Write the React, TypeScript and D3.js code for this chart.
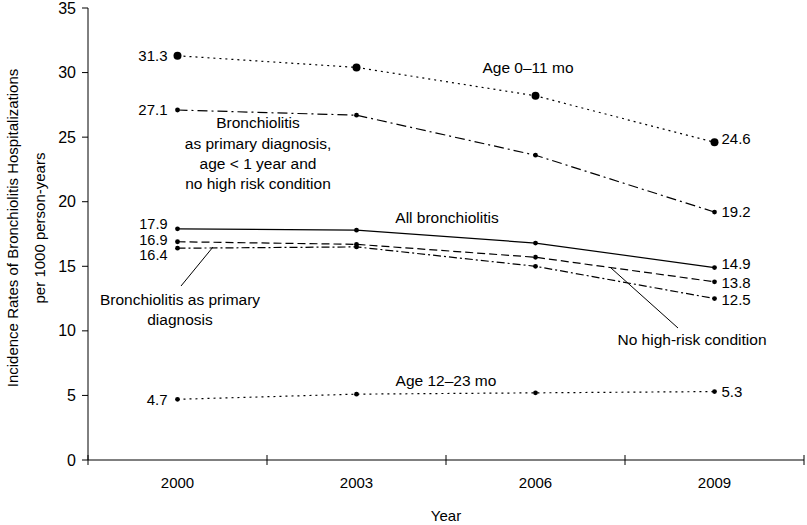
import React from "react";
import * as d3 from "d3";

const years = ["2000", "2003", "2006", "2009"];
const yTicks = [0, 5, 10, 15, 20, 25, 30, 35];

const age0to11 = [31.3, 30.4, 28.2, 24.6];
const primaryAgeNoRisk = [27.1, 26.7, 23.6, 19.2];
const allBronch = [17.9, 17.8, 16.8, 14.9];
const primaryDx = [16.9, 16.7, 15.7, 13.8];
const noHighRisk = [16.4, 16.5, 15.0, 12.5];
const age12to23 = [4.7, 5.1, 5.2, 5.3];

const W = 807;
const H = 525;
const plot = { left: 88, right: 804, top: 8, bottom: 460 };

const font = "'Liberation Sans', Arial, sans-serif";

export default function App() {
  const x = d3.scaleBand<string>().domain(years).range([plot.left, plot.right]);
  const y = d3.scaleLinear().domain([0, 35]).range([plot.bottom, plot.top]);
  const cx = (yr: string) => (x(yr) as number) + x.bandwidth() / 2;
  const line = d3
    .line<number>()
    .x((_, i) => cx(years[i]))
    .y((d) => y(d));

  const series = [
    { data: age0to11, dash: "2,4", r: 4 },
    { data: primaryAgeNoRisk, dash: "10,4,2,4", r: 2.4 },
    { data: allBronch, dash: "", r: 2.4 },
    { data: primaryDx, dash: "8,4", r: 2.4 },
    { data: noHighRisk, dash: "8,3,2,3", r: 2.4 },
    { data: age12to23, dash: "2,4", r: 2.4 },
  ];

  const boundaries = [...years.map((yr) => x(yr) as number), plot.right];
  const first = years[0];
  const last = years[years.length - 1];
  const lx = cx(first) - 10;
  const rx = cx(last) + 7;

  const leftLabels = [
    { v: age0to11[0], dy: 0, fs: 15 },
    { v: primaryAgeNoRisk[0], dy: 0, fs: 15 },
    { v: allBronch[0], dy: -5, fs: 14.5 },
    { v: primaryDx[0], dy: -2, fs: 14.5 },
    { v: noHighRisk[0], dy: 7, fs: 14.5 },
    { v: age12to23[0], dy: 0, fs: 15 },
  ];
  const rightLabels = [
    { v: age0to11[3], dy: -4 },
    { v: primaryAgeNoRisk[3], dy: 0 },
    { v: allBronch[3], dy: -4 },
    { v: primaryDx[3], dy: 1 },
    { v: noHighRisk[3], dy: 1 },
    { v: age12to23[3], dy: 0 },
  ];

  const fs = 15.5;

  return (
    <div style={{ position: "absolute", left: 0, top: 0 }}>
      <svg width={W} height={H} style={{ display: "block", background: "#fff" }} fontFamily={font}>
        {/* axes */}
        <line x1={plot.left} x2={plot.left} y1={plot.top} y2={plot.bottom} stroke="#000" strokeWidth={1} />
        <line x1={plot.left} x2={plot.right} y1={plot.bottom} y2={plot.bottom} stroke="#000" strokeWidth={1} />
        {yTicks.map((t) => (
          <g key={t}>
            <line x1={plot.left - 6} x2={plot.left} y1={y(t)} y2={y(t)} stroke="#000" />
            <text x={plot.left - 12} y={y(t)} dy="0.35em" textAnchor="end" fontSize={16}>
              {t}
            </text>
          </g>
        ))}
        {boundaries.map((b, i) => (
          <line key={i} x1={b} x2={b} y1={plot.bottom - 5} y2={plot.bottom + 5} stroke="#000" />
        ))}
        {years.map((yr) => (
          <text key={yr} x={cx(yr)} y={488} textAnchor="middle" fontSize={15}>
            {yr}
          </text>
        ))}
        <text x={(plot.left + plot.right) / 2} y={521} textAnchor="middle" fontSize={15}>
          Year
        </text>
        <text transform={`translate(18,228) rotate(-90)`} textAnchor="middle" fontSize={15}>
          Incidence Rates of Bronchiolitis Hospitalizations
        </text>
        <text transform={`translate(45,228) rotate(-90)`} textAnchor="middle" fontSize={15}>
          per 1000 person-years
        </text>

        {/* series */}
        {series.map((s, i) => (
          <g key={i}>
            <path d={line(s.data) as string} fill="none" stroke="#000" strokeWidth={1.2} strokeDasharray={s.dash} />
            {s.data.map((v, j) => (
              <circle key={j} cx={cx(years[j])} cy={y(v)} r={s.r} fill="#000" />
            ))}
          </g>
        ))}

        {/* value labels */}
        {leftLabels.map((l, i) => (
          <text key={i} x={lx} y={y(l.v) + l.dy} dy="0.35em" textAnchor="end" fontSize={l.fs}>
            {l.v.toFixed(1)}
          </text>
        ))}
        {rightLabels.map((l, i) => (
          <text key={i} x={rx} y={y(l.v) + l.dy} dy="0.35em" textAnchor="start" fontSize={15}>
            {l.v.toFixed(1)}
          </text>
        ))}

        {/* annotations */}
        <text x={528} y={73} textAnchor="middle" fontSize={fs}>Age 0–11 mo</text>
        <text textAnchor="middle" fontSize={fs}>
          <tspan x={258} y={128}>Bronchiolitis</tspan>
          <tspan x={258} y={149}>as primary diagnosis,</tspan>
          <tspan x={258} y={169}>age &lt; 1 year and</tspan>
          <tspan x={258} y={189}>no high risk condition</tspan>
        </text>
        <text x={447} y={223} textAnchor="middle" fontSize={fs}>All bronchiolitis</text>
        <text textAnchor="middle" fontSize={fs}>
          <tspan x={180} y={305}>Bronchiolitis as primary</tspan>
          <tspan x={180} y={325}>diagnosis</tspan>
        </text>
        <line x1={181} y1={286} x2={213} y2={247} stroke="#000" strokeWidth={1} />
        <text x={692} y={345} textAnchor="middle" fontSize={fs}>No high-risk condition</text>
        <line x1={678} y1={328} x2={611} y2={268} stroke="#000" strokeWidth={1} />
        <text x={446} y={386} textAnchor="middle" fontSize={fs}>Age 12–23 mo</text>
      </svg>
    </div>
  );
}
